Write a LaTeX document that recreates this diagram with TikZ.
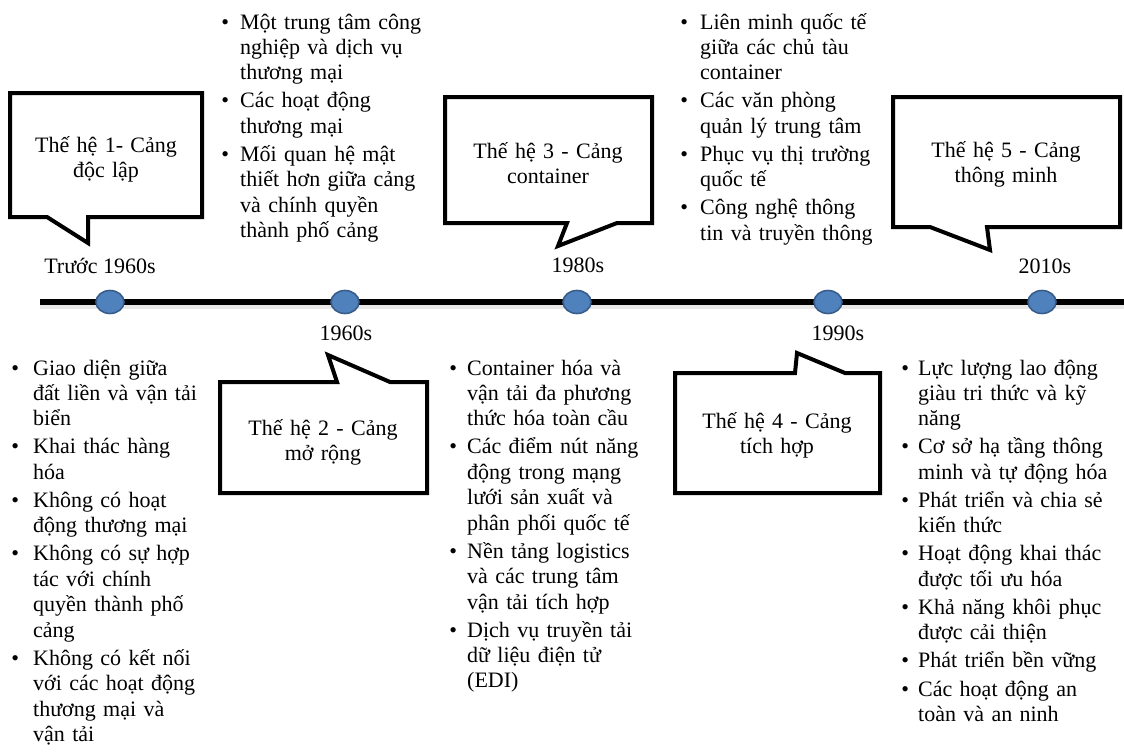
\documentclass[tikz,border=0pt]{standalone}
\usepackage{fontspec}
\setmainfont{Liberation Serif}
\usetikzlibrary{shapes.geometric}
\definecolor{dotfill}{HTML}{4F81BD}
\definecolor{dotline}{HTML}{385D8A}
\newlength\bulind
\newcommand\bul{\leavevmode\hangindent=\bulind\hangafter=1\makebox[\bulind][l]{\textbullet}}
\newcommand\nbul{\par\bul}
\newcommand\blist[5]{\node[listnode,anchor=base west] (#1) at (#2-3.8,#4) {\setlength\bulind{\dimexpr #3pt-#2pt+3.8pt\relax}\setlength\parskip{2.7pt}\setlength\parindent{0pt}#5\par};}
\tikzset{
  listnode/.style={font=\fontsize{22}{25.4}\selectfont, text width=260pt, inner sep=0pt},
  lbl/.style={font=\fontsize{22}{25.5}\selectfont, anchor=base, inner sep=0pt},
  ctext/.style={font=\fontsize{22}{25}\selectfont, text width=200pt, align=center, anchor=base, inner sep=0pt},
  callout/.style={draw=black, line width=4pt, fill=white, line join=miter},
  tdot/.style={ellipse, fill=dotfill, draw=dotline, line width=1.6pt, minimum width=28pt, minimum height=23pt, inner sep=0pt},
}
\begin{document}
\begin{tikzpicture}[x=1pt,y=-1pt]
\fill[white] (0,0) rectangle (1124,753);
\useasboundingbox (0,0) rectangle (1124,753);

% timeline
\coordinate (ls) at (40,302);
\coordinate (le) at (1124,302);
\draw[gray!18, line width=6pt] ([yshift=-4pt]ls) -- ([yshift=-4pt]le);
\draw[black, line width=6.5pt] (ls) -- (le);
\node[tdot] (d1) at (110,302) {};
\node[tdot] (d2) at (345,302) {};
\node[tdot] (d3) at (577,302) {};
\node[tdot] (d4) at (828,302) {};
\node[tdot] (d5) at (1042,302) {};

% year labels
\node[lbl] (y1) at (100,273) {Trước 1960s};
\node[lbl] (y2) at (346,340) {1960s};
\node[lbl] (y3) at (578,272) {1980s};
\node[lbl] (y4) at (838,340) {1990s};
\node[lbl] (y5) at (1045,273) {2010s};

% callouts
\draw[callout] (10,93) -- (202,93) -- (202,217) -- (88,217) -- (88,243) -- (47,217) -- (10,217) -- cycle;
\node[ctext] (c1) at (106,152) {Thế hệ 1- Cảng\\độc lập};

\draw[callout] (220,382) -- (337,382) -- (328,355) -- (390,382) -- (427,382) -- (427,493) -- (220,493) -- cycle;
\node[ctext] (c2) at (323,435) {Thế hệ 2 - Cảng\\mở rộng};

\draw[callout] (445,97) -- (652,97) -- (652,223) -- (617,223) -- (558,246) -- (567,223) -- (445,223) -- cycle;
\node[ctext] (c3) at (548,158) {Thế hệ 3 - Cảng\\container};

\draw[callout] (675,373) -- (795,373) -- (797,353) -- (845,373) -- (880,373) -- (880,493) -- (675,493) -- cycle;
\node[ctext] (c4) at (777,428) {Thế hệ 4 - Cảng\\tích hợp};

\draw[callout] (893,97) -- (1120,97) -- (1120,227) -- (987,227) -- (990,250) -- (930,227) -- (893,227) -- cycle;
\node[ctext] (c5) at (1006,157) {Thế hệ 5 - Cảng\\thông minh};

% bullet lists
\blist{l1}{15}{33}{375}{%
\bul Giao diện giữa\newline đất liền và vận tải\newline biển
\nbul Khai thác hàng\newline hóa
\nbul Không có hoạt\newline động thương mại
\nbul Không có sự hợp\newline tác với chính\newline quyền thành phố\newline cảng
\nbul Không có kết nối\newline với các hoạt động\newline thương mại và\newline vận tải}

\blist{l2}{225}{240}{29}{%
\bul Một trung tâm công\newline nghiệp và dịch vụ\newline thương mại
\nbul Các hoạt động\newline thương mại
\nbul Mối quan hệ mật\newline thiết hơn giữa cảng\newline và chính quyền\newline thành phố cảng}

\blist{l3}{453}{467}{375}{%
\bul Container hóa và\newline vận tải đa phương\newline thức hóa toàn cầu
\nbul Các điểm nút năng\newline động trong mạng\newline lưới sản xuất và\newline phân phối quốc tế
\nbul Nền tảng logistics\newline và các trung tâm\newline vận tải tích hợp
\nbul Dịch vụ truyền tải\newline dữ liệu điện tử\newline (EDI)}

\blist{l4}{684}{700}{29}{%
\bul Liên minh quốc tế\newline giữa các chủ tàu\newline container
\nbul Các văn phòng\newline quản lý trung tâm
\nbul Phục vụ thị trường\newline quốc tế
\nbul Công nghệ thông\newline tin và truyền thông}

\blist{l5}{905}{918}{375}{%
\bul Lực lượng lao động\newline giàu tri thức và kỹ\newline năng
\nbul Cơ sở hạ tầng thông\newline minh và tự động hóa
\nbul Phát triển và chia sẻ\newline kiến thức
\nbul Hoạt động khai thác\newline được tối ưu hóa
\nbul Khả năng khôi phục\newline được cải thiện
\nbul Phát triển bền vững
\nbul Các hoạt động an\newline toàn và an ninh}
\end{tikzpicture}
\end{document}
